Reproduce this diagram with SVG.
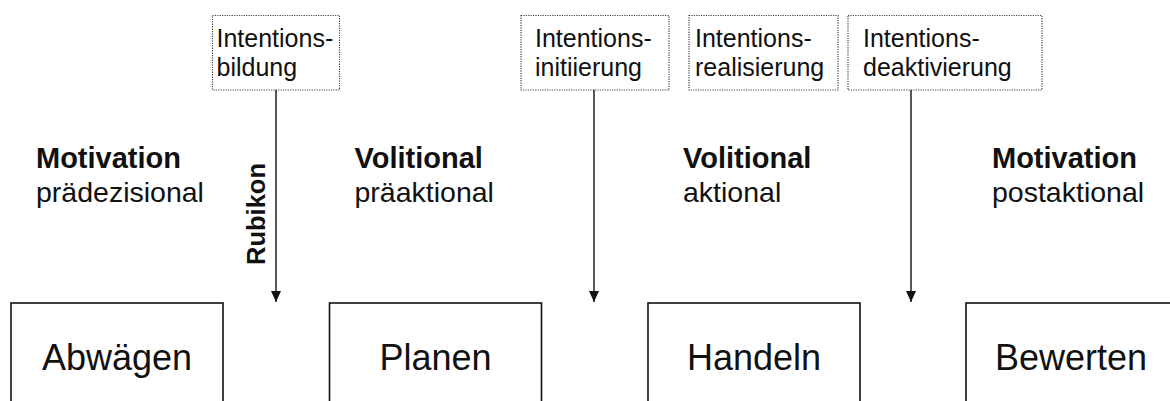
<svg xmlns="http://www.w3.org/2000/svg" width="1170" height="401" viewBox="0 0 1170 401">
  <style>
    text { font-family: "Liberation Sans", Arial, sans-serif; fill: #111; }
    .note { fill: #fff; stroke: #444; stroke-width: 1.2; stroke-dasharray: 1.2 1.2; }
    .note-text { font-size: 25px; }
    .phase { fill: #fff; stroke: #111; stroke-width: 1.6; }
    .phase-text { font-size: 36px; text-anchor: middle; }
    .head { font-size: 29px; font-weight: bold; }
    .sub { font-size: 28.5px; }
    .conn { stroke: #111; stroke-width: 1.4; fill: none; marker-end: url(#arrow); }
    .rubikon { font-size: 25.5px; font-weight: bold; text-anchor: middle; }
  </style>
  <defs>
    <marker id="arrow" markerWidth="11" markerHeight="10" refX="11" refY="5" orient="auto" markerUnits="userSpaceOnUse">
      <path d="M0,0 L11,5 L0,10 Z" fill="#111"/>
    </marker>
  </defs>
  <rect width="1170" height="401" fill="#fff"/>

  <!-- intention transition notes -->
  <g id="note-bildung">
    <rect class="note" x="212.5" y="15.5" width="127" height="74.5"/>
    <text class="note-text" x="216.5" y="47">Intentions-</text>
    <text class="note-text" x="216.5" y="76">bildung</text>
  </g>
  <g id="note-initiierung">
    <rect class="note" x="521" y="15.5" width="148" height="74.5"/>
    <text class="note-text" x="535" y="47">Intentions-</text>
    <text class="note-text" x="535" y="76">initiierung</text>
  </g>
  <g id="note-realisierung">
    <rect class="note" x="689" y="15.5" width="149" height="74.5"/>
    <text class="note-text" x="695" y="47">Intentions-</text>
    <text class="note-text" x="695" y="76">realisierung</text>
  </g>
  <g id="note-deaktivierung">
    <rect class="note" x="848" y="15.5" width="194" height="74.5"/>
    <text class="note-text" x="863" y="47">Intentions-</text>
    <text class="note-text" x="863" y="76">deaktivierung</text>
  </g>

  <!-- phase headings -->
  <g id="label-praedezisional">
    <text class="head" x="36" y="167.5">Motivation</text>
    <text class="sub" x="36" y="201.5">prädezisional</text>
  </g>
  <g id="label-praeaktional">
    <text class="head" x="354.5" y="167.5">Volitional</text>
    <text class="sub" x="354.5" y="201.5">präaktional</text>
  </g>
  <g id="label-aktional">
    <text class="head" x="683" y="167.5">Volitional</text>
    <text class="sub" x="683" y="201.5">aktional</text>
  </g>
  <g id="label-postaktional">
    <text class="head" x="992" y="167.5">Motivation</text>
    <text class="sub" x="992" y="201.5">postaktional</text>
  </g>

  <!-- phase boxes -->
  <g id="abwaegen">
    <rect class="phase" x="11" y="303" width="212" height="130"/>
    <text class="phase-text" x="117" y="370">Abwägen</text>
  </g>
  <g id="planen">
    <rect class="phase" x="329.5" y="303" width="212" height="130"/>
    <text class="phase-text" x="435.5" y="370">Planen</text>
  </g>
  <g id="handeln">
    <rect class="phase" x="648" y="303" width="212" height="130"/>
    <text class="phase-text" x="754" y="370">Handeln</text>
  </g>
  <g id="bewerten">
    <rect class="phase" x="966" y="303" width="212" height="130"/>
    <text class="phase-text" x="1071" y="370">Bewerten</text>
  </g>

  <!-- connectors -->
  <g id="connectors">
    <line class="conn" x1="276" y1="90" x2="276" y2="302"/>
    <line class="conn" x1="594" y1="90" x2="594" y2="302"/>
    <line class="conn" x1="911" y1="90" x2="911" y2="302"/>
    <text class="rubikon" transform="translate(265,214) rotate(-90)">Rubikon</text>
  </g>
</svg>
